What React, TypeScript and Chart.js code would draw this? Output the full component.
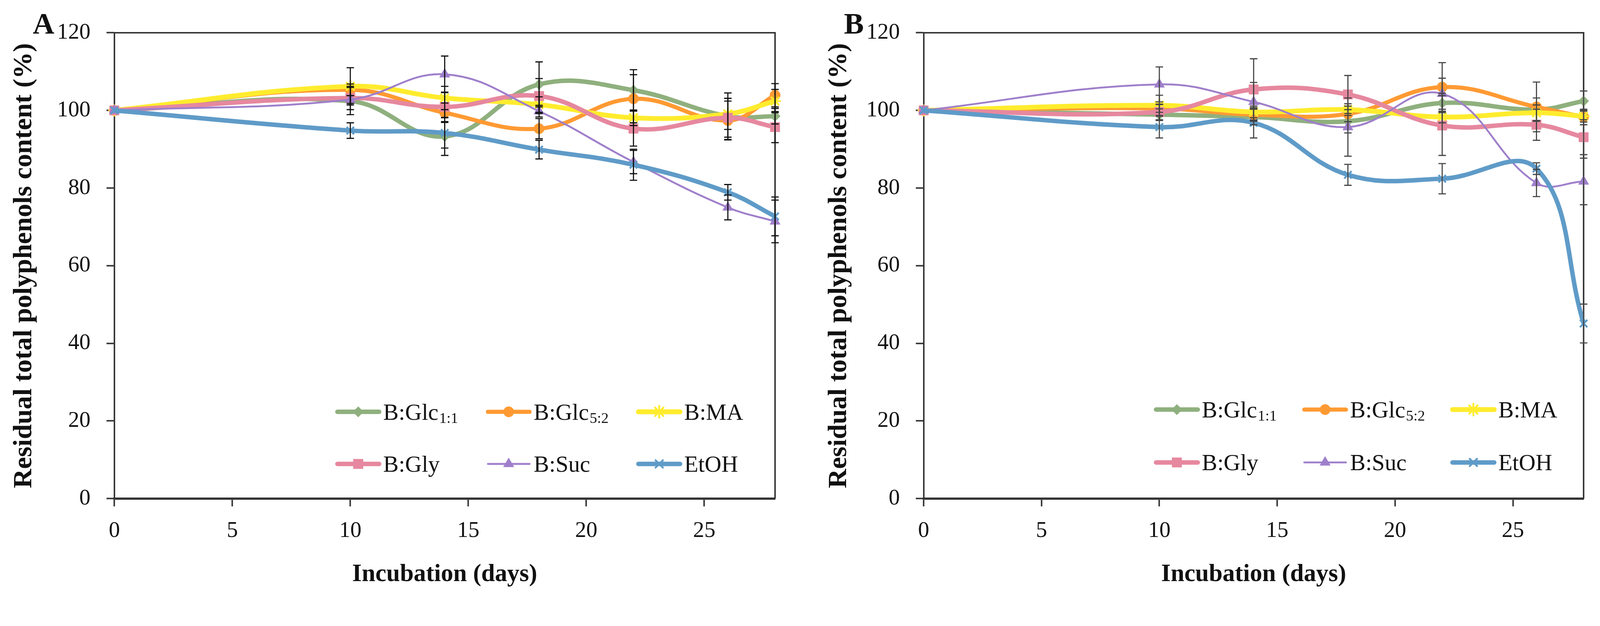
import { useEffect, useRef } from 'react'
import { Chart, registerables } from 'chart.js'
import { drawPoint } from 'chart.js/helpers'

Chart.register(...registerables)

const FONT = "'Liberation Serif', 'DejaVu Serif', serif"

// incubation time (days)
const days = [0, 10, 14, 18, 22, 26, 28]

// legend names, subscripts
const seriesNames = ['B:Glc', 'B:Glc', 'B:MA', 'B:Gly', 'B:Suc', 'EtOH']
const seriesSubs = ['1:1', '5:2', '', '', '', '']

// panel A: residual total polyphenols (%)
const aGlc11 = [100, 102.4, 93.3, 106.7, 105.2, 98.5, 98.5]
const aGlc52 = [100, 105.3, 99.4, 95.3, 103.0, 97.4, 103.9]
const aMA = [100, 106.2, 103.2, 101.5, 98.1, 99.1, 102.4]
const aGly = [100, 103.2, 100.9, 103.7, 95.3, 98.1, 95.7]
const aSuc = [100, 102.8, 109.3, 99.8, 86.7, 75.0, 71.4]
const aEtOH = [100, 94.8, 94.2, 89.9, 86.0, 78.9, 72.7]

// panel A: error (sd)
const aGlc11Err = [0, 3.5, 4.9, 5.8, 5.3, 6, 2]
const aGlc52Err = [0, 1.5, 2.5, 2.6, 6.2, 5, 3]
const aMAErr = [0, 4.8, 3, 2, 2, 4, 3]
const aGlyErr = [0, 3, 3.8, 4.5, 4.5, 5, 4]
const aSucErr = [0, 1, 4.7, 1.5, 3, 3.2, 5.5]
const aEtOHErr = [0, 2, 3.9, 2.4, 4, 2, 5]

// panel B
const bGlc11 = [100, 98.9, 98.3, 97.2, 101.9, 100.2, 102.4]
const bGlc52 = [100, 100.5, 98.9, 99.1, 106.0, 100.9, 98.3]
const bMA = [100, 101.3, 99.6, 100.2, 98.3, 99.4, 98.5]
const bGly = [100, 99.6, 105.4, 104.1, 96.1, 96.3, 93.1]
const bSuc = [100, 106.7, 102.2, 95.7, 104.3, 81.3, 81.7]
const bEtOH = [100, 95.7, 96.8, 83.4, 82.4, 85.0, 45.1]

const bGlc11Err = [0, 1.5, 2, 3, 2.5, 3, 2.6]
const bGlc52Err = [0, 1, 1.5, 2, 6.3, 6.4, 2]
const bMAErr = [0, 2.6, 1.5, 1.5, 1.5, 2, 1.5]
const bGlyErr = [0, 2, 7.9, 4.9, 7.7, 4, 4.5]
const bSucErr = [0, 4.5, 5, 7.5, 4, 3.5, 6]
const bEtOHErr = [0, 2.8, 3.9, 2.7, 3.9, 1.5, 5]

const looks = [
  { color: '#8fb07e', style: 'rectRot', radius: 14, width: 12, pw: 1 },
  { color: '#ff9a33', style: 'circle', radius: 14, width: 11, pw: 1 },
  { color: '#ffec2e', style: 'star', radius: 16, width: 13, pw: 5 },
  { color: '#e6889f', style: 'rect', radius: 18, width: 12, pw: 1 },
  { color: '#9f7fcb', style: 'triangle', radius: 16, width: 5, pw: 1 },
  { color: '#5f9bc8', style: 'crossRot', radius: 14, width: 12, pw: 5 },
]

type PanelProps = {
  k: number
  letter: string
  letterX: number
  values: number[][]
  errors: number[][]
  yWidth: number
  padRight: number
  yTitlePad: number
  legendX: number
  legendStep: number
  legendRows: number[]
  barColor: string
}

function Panel(p: PanelProps) {
  const canvasRef = useRef<HTMLCanvasElement>(null)
  const chartRef = useRef<any>(null)

  useEffect(() => {
    if (!canvasRef.current) return
    const k = p.k
    const s = (v: number) => v * k

    const extras = {
      id: 'extras',
      beforeDatasetsDraw(chart: any) {
        const { ctx, chartArea: a } = chart
        ctx.save()
        ctx.strokeStyle = '#333'
        ctx.lineWidth = s(4)
        ctx.beginPath()
        ctx.moveTo(a.left, a.top)
        ctx.lineTo(a.right, a.top)
        ctx.lineTo(a.right, a.bottom)
        ctx.stroke()
        ctx.restore()
      },
      afterDatasetsDraw(chart: any) {
        const { ctx, scales: { x, y } } = chart
        ctx.save()
        ctx.strokeStyle = p.barColor
        ctx.lineWidth = s(3)
        p.values.forEach((vals, i) => {
          vals.forEach((v, j) => {
            const e = p.errors[i][j]
            if (!e) return
            const px = x.getPixelForValue(days[j])
            const t = y.getPixelForValue(v + e)
            const b = y.getPixelForValue(v - e)
            ctx.beginPath()
            ctx.moveTo(px, t)
            ctx.lineTo(px, b)
            ctx.moveTo(px - s(10), t)
            ctx.lineTo(px + s(10), t)
            ctx.moveTo(px - s(10), b)
            ctx.lineTo(px + s(10), b)
            ctx.stroke()
          })
        })
        ctx.restore()
      },
      afterDraw(chart: any) {
        const { ctx, chartArea: a } = chart
        ctx.save()
        // legend, 3 columns x 2 rows inside the plot
        seriesNames.forEach((name, i) => {
          const lk = looks[i]
          const x0 = a.left + s(p.legendX + (i % 3) * p.legendStep)
          const y0 = s(p.legendRows[Math.floor(i / 3)])
          ctx.strokeStyle = lk.color
          ctx.fillStyle = lk.color
          ctx.lineWidth = s(lk.width)
          ctx.lineCap = 'round'
          ctx.beginPath()
          ctx.moveTo(x0 + s(4), y0)
          ctx.lineTo(x0 + s(116), y0)
          ctx.stroke()
          ctx.lineWidth = s(lk.pw)
          drawPoint(ctx, { pointStyle: lk.style as any, rotation: 0, radius: s(lk.radius), borderWidth: s(lk.pw) }, x0 + s(60), y0)
          ctx.fillStyle = '#111'
          ctx.textBaseline = 'alphabetic'
          ctx.textAlign = 'left'
          ctx.font = `${s(62)}px ${FONT}`
          ctx.fillText(name, x0 + s(127), y0 + s(21))
          if (seriesSubs[i]) {
            const w = ctx.measureText(name).width
            ctx.font = `${s(40)}px ${FONT}`
            ctx.fillText(seriesSubs[i], x0 + s(129) + w, y0 + s(30))
          }
        })
        // panel letter
        ctx.fillStyle = '#111'
        ctx.font = `bold ${s(80)}px ${FONT}`
        ctx.textBaseline = 'alphabetic'
        ctx.fillText(p.letter, s(p.letterX), s(90))
        ctx.restore()
      },
    }

    const datasets = p.values.map((vals, i) => ({
      label: seriesNames[i] + seriesSubs[i],
      data: days.map((d, j) => ({ x: d, y: vals[j] })),
      borderColor: looks[i].color,
      backgroundColor: looks[i].color,
      borderWidth: s(looks[i].width),
      pointStyle: looks[i].style,
      pointRadius: s(looks[i].radius),
      pointBorderWidth: s(looks[i].pw),
      pointBackgroundColor: looks[i].color,
      pointBorderColor: looks[i].color,
      tension: 0.4,
      clip: false,
      order: p.values.length - i,
    }))

    const grid = { drawOnChartArea: false, drawTicks: true, tickLength: s(21), tickWidth: s(4), tickColor: '#333' }

    if (chartRef.current) chartRef.current.destroy()

    chartRef.current = new Chart(canvasRef.current, {
      type: 'line',
      data: { datasets: datasets as any },
      plugins: [extras],
      options: {
        responsive: true,
        maintainAspectRatio: false,
        animation: false,
        layout: { padding: { top: s(88), right: s(p.padRight), bottom: 0, left: 0 } },
        plugins: {
          legend: { display: false },
          tooltip: { enabled: false },
        },
        scales: {
          x: {
            type: 'linear',
            min: 0,
            max: 28,
            ticks: {
              stepSize: 5,
              includeBounds: false,
              color: '#111',
              padding: s(30),
              font: { family: FONT, size: s(60) },
            },
            grid,
            border: { color: '#333', width: s(6) },
            title: {
              display: true,
              text: 'Incubation (days)',
              color: '#111',
              font: { family: FONT, size: s(66), weight: 'bold' },
              padding: { top: 0, bottom: s(20) },
            },
            afterFit: (sc: any) => { sc.height = s(264) },
          },
          y: {
            type: 'linear',
            min: 0,
            max: 120,
            ticks: {
              stepSize: 20,
              color: '#111',
              padding: s(43),
              font: { family: FONT, size: s(60) },
            },
            grid,
            border: { color: '#333', width: s(4) },
            title: {
              display: true,
              text: 'Residual total polyphenols content (%)',
              color: '#111',
              font: { family: FONT, size: s(72), weight: 'bold' },
              padding: { top: s(p.yTitlePad), bottom: 0 },
            },
            afterFit: (sc: any) => { sc.width = s(p.yWidth) },
          },
        },
      },
    })

    return () => {
      if (chartRef.current) chartRef.current.destroy()
      chartRef.current = null
    }
  }, [])

  return (
    <div style={{ position: 'relative', width: 2148 * p.k, height: 1603 * p.k }}>
      <canvas ref={canvasRef} />
    </div>
  )
}

export default function App() {
  document.body.style.margin = '0'
  document.body.style.background = '#fff'
  const k = Math.min(window.innerWidth / 4296, window.innerHeight / 1603) || 1

  return (
    <div style={{ display: 'flex', width: 4296 * k, height: 1603 * k, background: '#fff' }}>
      <Panel
        k={k}
        letter="A"
        letterX={88}
        values={[aGlc11, aGlc52, aMA, aGly, aSuc, aEtOH]}
        errors={[aGlc11Err, aGlc52Err, aMAErr, aGlyErr, aSucErr, aEtOHErr]}
        yWidth={307}
        padRight={67}
        yTitlePad={22}
        legendX={595}
        legendStep={404}
        legendRows={[1106, 1246]}
        barColor="#111"
      />
      <Panel
        k={k}
        letter="B"
        letterX={118}
        values={[bGlc11, bGlc52, bMA, bGly, bSuc, bEtOH]}
        errors={[bGlc11Err, bGlc52Err, bMAErr, bGlyErr, bSucErr, bEtOHErr]}
        yWidth={332}
        padRight={44}
        yTitlePad={62}
        legendX={620}
        legendStep={398}
        legendRows={[1100, 1242]}
        barColor="#444"
      />
    </div>
  )
}
